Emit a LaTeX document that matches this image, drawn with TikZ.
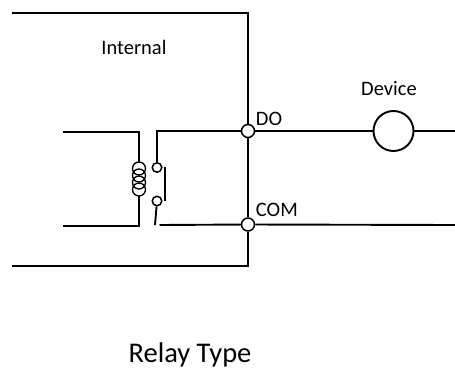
\documentclass[tikz,border=0pt]{standalone}
\usepackage{fontspec}
\setmainfont{Carlito}
\begin{document}
\begin{tikzpicture}
            [x=1pt,y=-1pt,line width=1.9pt,
             term/.style={circle,draw,fill=white,inner sep=0pt,minimum size=13pt,line width=1.5pt},
             contact/.style={circle,draw,fill=white,inner sep=0pt,minimum size=9.5pt,line width=1.5pt},
             lbl/.style={inner sep=0pt,font=\fontsize{20.5}{24}\selectfont}]
            \useasboundingbox (0,0) rectangle (455,372);
            % terminals and device
            \node[term] (do) at (248,131) {};
            \node[term] (com) at (248,224.5) {};
            \node[circle,draw,inner sep=0pt,minimum size=40pt] (dev) at (393.5,131) {};
            \node[contact] (k1) at (157,167.5) {};
            \node[contact] (k2) at (157,201) {};
            % corners
            \coordinate (tl) at (12,13);
            \coordinate (tr) at (248,13);
            \coordinate (br) at (248,266);
            \coordinate (bl) at (12,266);
            \coordinate (a1) at (63,132);
            \coordinate (a2) at (139,132);
            \coordinate (a3) at (139,162);
            \coordinate (a4) at (139,196);
            \coordinate (a5) at (139,226);
            \coordinate (a6) at (63,226);
            \coordinate (s1) at (157,131);
            \coordinate (s2) at (155,225);
            \coordinate (s3) at (159.5,225);
            \coordinate (e1) at (455,131);
            \coordinate (e2) at (455,225);
            % frame
            \draw (tl) -- (tr) -- (do) -- (com) -- (br) -- (bl);
            % coil
            \draw (a1) -- (a2) -- (a3);
            \draw (a4) -- (a5) -- (a6);
            \foreach \y in {168.5,175.5,182.5,189.5}
              \draw[line width=1.3pt] (139,\y) ellipse [x radius=6.5pt, y radius=6.5pt];
            % switch
            \draw (do) -- (s1) -- (k1);
            \draw (165,167) -- (165,201);
            \draw (k2) -- (s2);
            \draw (s3) -- (com);
            % outputs
            \draw (do) -- (dev) -- (e1);
            \draw (com) -- (e2);
            % labels
            \node[lbl,anchor=center] (int) at (134,47.5) {Internal};
            \node[lbl,anchor=west] (dol) at (255,119) {DO};
            \node[lbl,anchor=west] (coml) at (255,210) {COM};
            \node[lbl,anchor=center] (devl) at (389,89) {Device};
            \node[inner sep=0pt,font=\fontsize{28.5}{32}\selectfont] (title) at (190,355) {Relay Type};
\end{tikzpicture}
\end{document}
